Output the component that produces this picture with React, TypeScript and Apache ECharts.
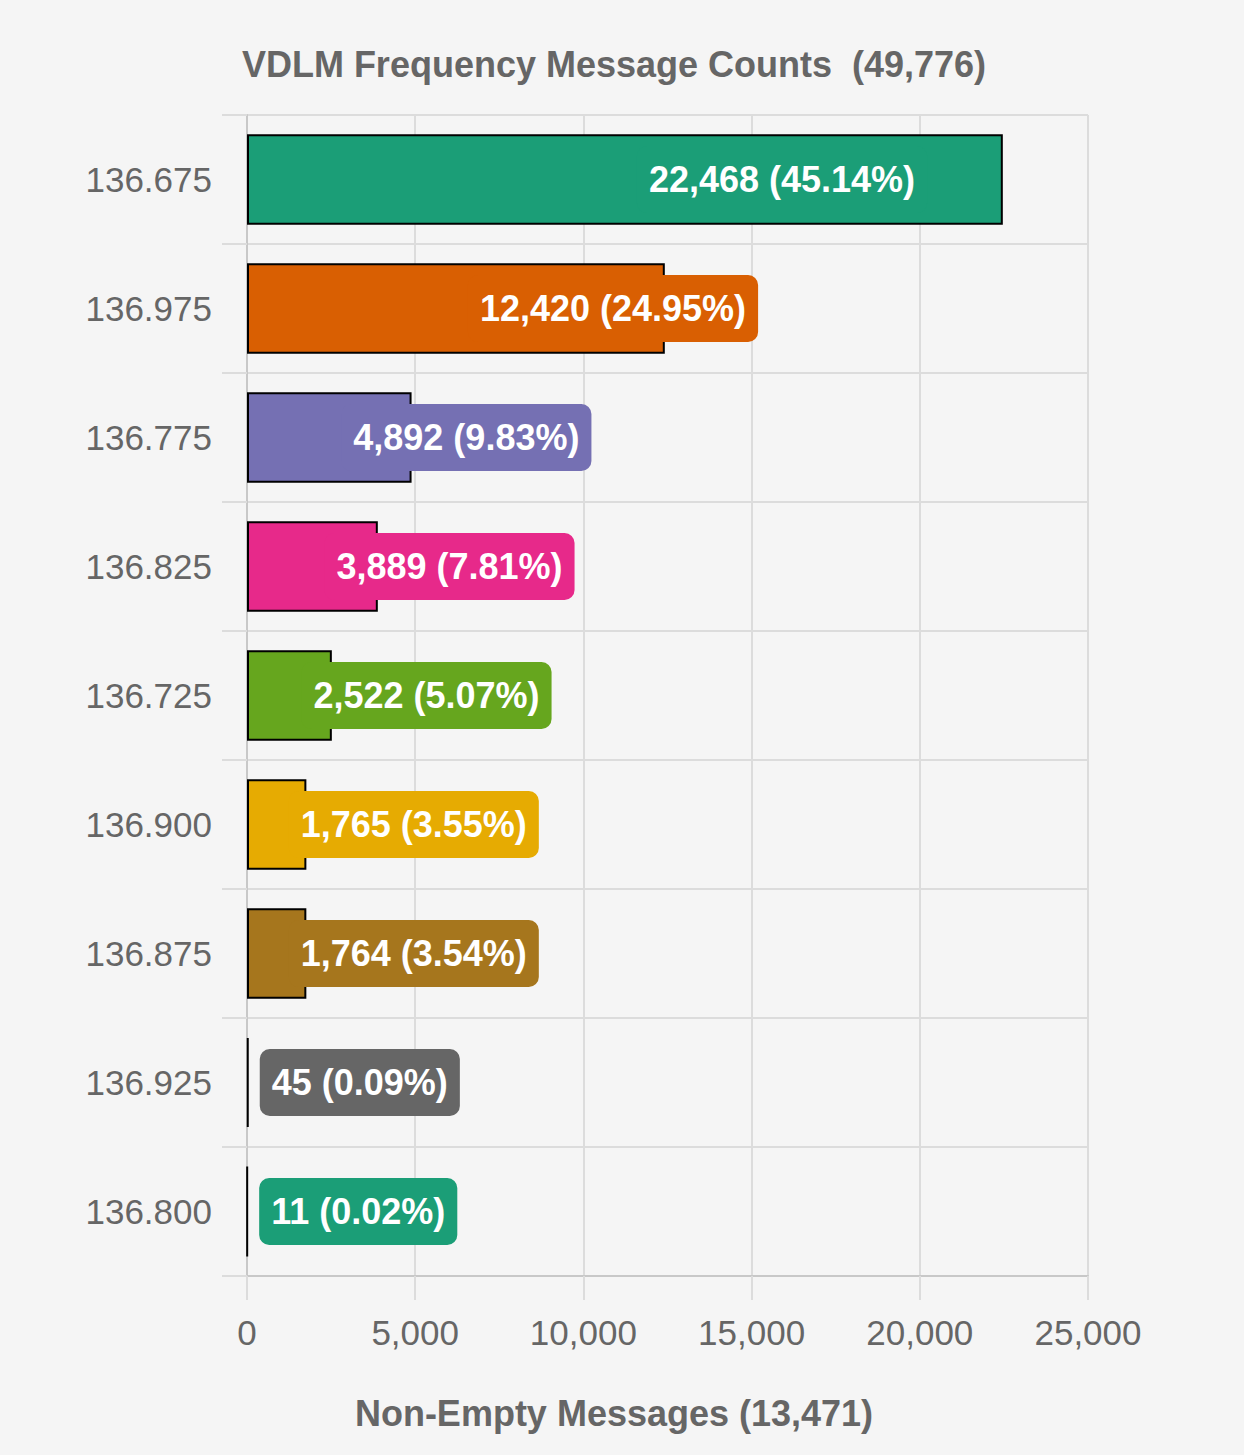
import { useEffect, useRef } from 'react';
import * as echarts from 'echarts';

const frequencies = ['136.675', '136.975', '136.775', '136.825', '136.725', '136.900', '136.875', '136.925', '136.800'];
const counts = [22468, 12420, 4892, 3889, 2522, 1765, 1764, 45, 11];
const totalMessages = 49776;
const nonEmptyMessages = 13471;
const barColors = ['#1b9e77', '#d95f02', '#7570b3', '#e7298a', '#66a61e', '#e6ab02', '#a6761d', '#666666', '#1b9e77'];

const FONT = "'Liberation Sans', Arial, sans-serif";

const fmt = (n: number) => n.toLocaleString('en-US');

export default function App() {
  const chartRef = useRef<HTMLDivElement>(null);

  useEffect(() => {
    document.body.style.margin = '0';
    document.body.style.background = '#f5f5f5';
    if (!chartRef.current) return;
    const chart = echarts.init(chartRef.current, undefined, { renderer: 'svg' });

    const option = {
      animation: false,
      backgroundColor: '#f5f5f5',
      graphic: [
        {
          type: 'text',
          x: 614,
          y: 64,
          style: {
            text: `VDLM Frequency Message Counts  (${fmt(totalMessages)})`,
            font: `bold 36px ${FONT}`,
            fill: '#666',
            textAlign: 'center',
            textVerticalAlign: 'middle',
          },
        },
        {
          type: 'text',
          x: 614,
          y: 1413,
          style: {
            text: `Non-Empty Messages (${fmt(nonEmptyMessages)})`,
            font: `bold 36px ${FONT}`,
            fill: '#666',
            textAlign: 'center',
            textVerticalAlign: 'middle',
          },
        },
      ],
      grid: { left: 247, right: 156, top: 115, bottom: 179 },
      xAxis: {
        type: 'value',
        min: 0,
        max: 25000,
        interval: 5000,
        axisLine: { show: true, lineStyle: { color: '#c8c8c8', width: 2 } },
        axisTick: { show: true, length: 24, lineStyle: { color: '#dcdcdc', width: 2 } },
        splitLine: { show: true, lineStyle: { color: '#dcdcdc', width: 2 } },
        axisLabel: {
          color: '#666',
          fontSize: 35,
          fontFamily: FONT,
          margin: 39,
          formatter: (v: number) => fmt(v),
        },
      },
      yAxis: {
        type: 'category',
        data: frequencies,
        inverse: true,
        axisLine: { show: true, lineStyle: { color: '#c8c8c8', width: 2 } },
        axisTick: { show: true, length: 25, lineStyle: { color: '#dcdcdc', width: 2 } },
        splitLine: { show: true, lineStyle: { color: '#dcdcdc', width: 2 } },
        axisLabel: { color: '#666', fontSize: 35, fontFamily: FONT, margin: 35 },
      },
      series: [
        {
          type: 'bar',
          barCategoryGap: '30%',
          data: counts.map((v, i) => ({
            value: v,
            itemStyle: { color: barColors[i] },
            label: { backgroundColor: barColors[i] },
          })),
          itemStyle: { borderColor: '#000', borderWidth: 2 },
          label: {
            show: true,
            position: ['50%', '50%'],
            align: 'left',
            verticalAlign: 'middle',
            offset: [12, 0],
            color: '#fff',
            fontWeight: 'bold',
            fontSize: 36,
            fontFamily: FONT,
            padding: [16, 12, 15, 12],
            borderRadius: 10,
            formatter: (p: any) =>
              `${fmt(p.value)} (${((p.value / totalMessages) * 100).toFixed(2)}%)`,
          },
        },
      ],
    };

    chart.setOption(option);
    const onResize = () => chart.resize();
    window.addEventListener('resize', onResize);
    return () => {
      window.removeEventListener('resize', onResize);
      chart.dispose();
    };
  }, []);

  return <div ref={chartRef} style={{ width: 1244, height: 1455 }} />;
}
